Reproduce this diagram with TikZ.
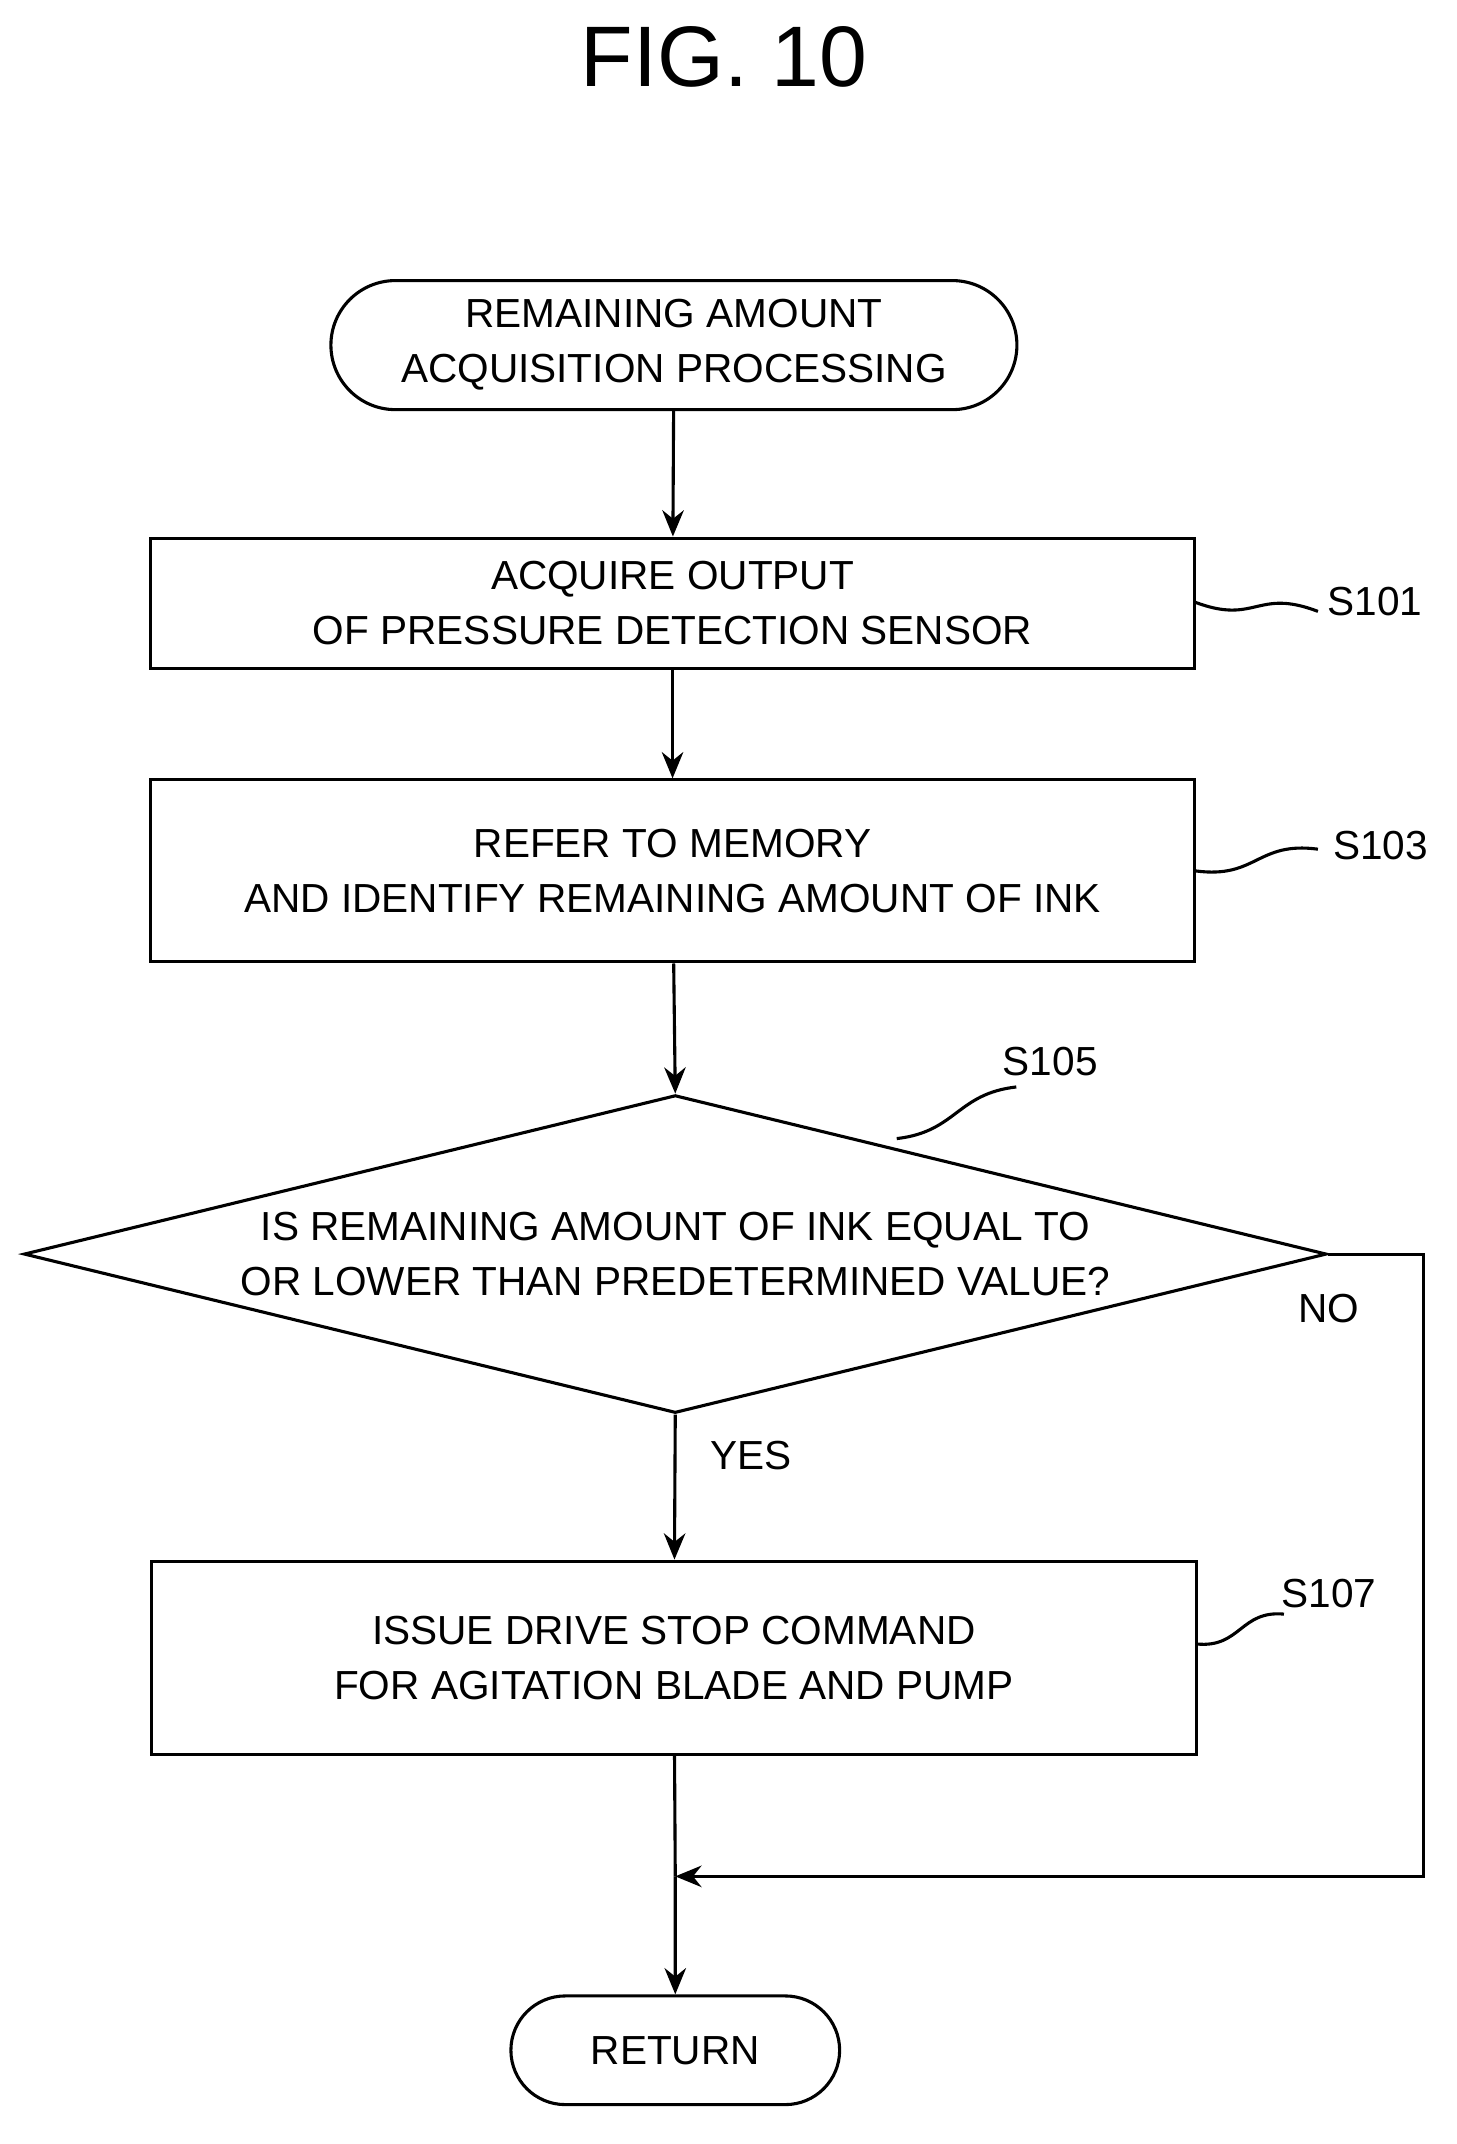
\documentclass[tikz,border=0pt]{standalone}
\usepackage{fontspec}
\setmainfont{Liberation Sans}
\usetikzlibrary{arrows.meta,shapes.geometric,shapes.misc,positioning,calc}
\tikzset{
  box/.style={draw, line width=1.3pt, align=center, inner sep=0pt, font=\fontsize{17}{23}\selectfont},
  term/.style={box, rounded rectangle},
  flow/.style={line width=1.3pt, -{Stealth[length=11pt,width=9pt]}},
  plain/.style={line width=1.3pt},
  tag/.style={font=\fontsize{17}{20}\selectfont}
}
\newcommand{\squig}[2]{\draw[plain] (#1) .. controls ($(#1)!0.5!(#2)+(0,14)$) and ($(#1)!0.5!(#2)-(0,14)$) .. (#2);}
\begin{document}
\begin{tikzpicture}[x=0.02cm,y=-0.02cm]
  \useasboundingbox (0,0) rectangle (1072,1578);
  \node[font=\fontsize{36}{36}\selectfont] (title) at (533,42) {FIG. 10};

  \node[term, minimum width=10.1cm, minimum height=1.9cm] (start) at (496,254) {REMAINING AMOUNT\\ACQUISITION PROCESSING};
  \node[box, minimum width=15.36cm, minimum height=1.92cm] (s101) at (495,444) {ACQUIRE OUTPUT\\OF PRESSURE DETECTION SENSOR};
  \node[box, minimum width=15.38cm, minimum height=2.68cm] (s103) at (495,641) {REFER TO MEMORY\\AND IDENTIFY REMAINING AMOUNT OF INK};
  \node[box, diamond, aspect=4.1, minimum width=19.18cm, minimum height=4.68cm] (s105) at (497,923) {IS REMAINING AMOUNT OF INK EQUAL TO\\OR LOWER THAN PREDETERMINED VALUE?};
  \node[box, minimum width=15.38cm, minimum height=2.84cm] (s107) at (496,1220) {ISSUE DRIVE STOP COMMAND\\FOR AGITATION BLADE AND PUMP};
  \node[term, minimum width=4.84cm, minimum height=1.6cm] (ret) at (497,1509) {RETURN};
  \coordinate (merge) at (497,1381);
  \coordinate (corner1) at (1048,923);
  \coordinate (corner2) at (1048,1381);

  \draw[flow] (start) -- (s101);
  \draw[flow] (s101) -- (s103);
  \draw[flow] (s103) -- (s105.north);
  \draw[flow] (s105.south) -- (s107);
  \draw[plain] (s107) -- (merge);
  \draw[flow] (merge) -- (ret);
  \draw[flow] (s105.east) -- (corner1) -- (corner2) -- (merge);

  \node[tag] (yes) at (553,1071) {YES};
  \node[tag] (no) at (978,963) {NO};

  \node[tag] (l101) at (1012,443) {S101};
  \node[tag] (l103) at (1016,622) {S103};
  \node[tag] (l105) at (773,781) {S105};
  \node[tag] (l107) at (978,1173) {S107};
  \coordinate (a101) at (879,443); \coordinate (b101) at (970,450);
  \coordinate (a103) at (880,641); \coordinate (b103) at (970,625);
  \coordinate (a105) at (660,838); \coordinate (b105) at (748,800);
  \coordinate (a107) at (881,1210); \coordinate (b107) at (945,1188);
  \squig{a101}{b101}
  \squig{a103}{b103}
  \squig{a105}{b105}
  \squig{a107}{b107}
\end{tikzpicture}
\end{document}
